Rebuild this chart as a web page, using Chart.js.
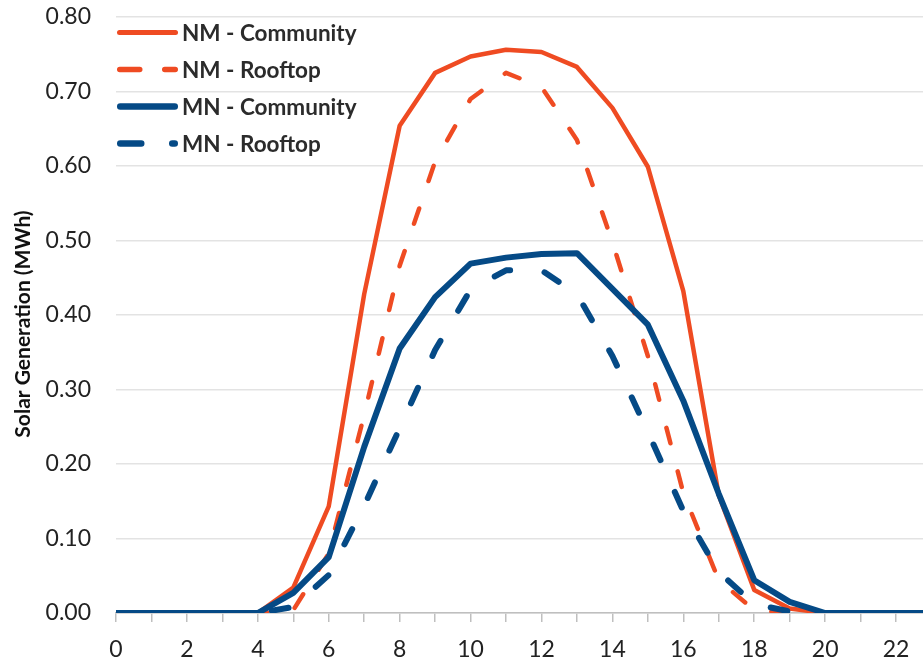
<!DOCTYPE html>
<html>
<head>
<meta charset="utf-8">
<script src="https://cdn.jsdelivr.net/npm/chart.js@4.4.1/dist/chart.umd.min.js"></script>
<style>
  html, body { margin: 0; padding: 0; background: #ffffff; overflow: hidden; }
  #wrap { width: 923px; height: 660px; position: relative; }
</style>
</head>
<body>
<div id="wrap"><canvas id="c"></canvas></div>
<script>
// ---- data ----
const hours = [0,1,2,3,4,5,6,7,8,9,10,11,12,13,14,15,16,17,18,19,20,21,22,23];
const seriesLabels = ['NM - Community', 'NM - Rooftop', 'MN - Community', 'MN - Rooftop'];
const nmCommunity = [0,0,0,0,0,0.034,0.143,0.428,0.654,0.725,0.747,0.756,0.753,0.733,0.678,0.599,0.432,0.158,0.031,0.006,0,0,0,0];
const nmRooftop   = [0,0,0,0,0,0.004,0.080,0.266,0.466,0.606,0.690,0.725,0.706,0.635,0.498,0.345,0.161,0.044,0.004,0,0,0,0,0];
const mnCommunity = [0,0,0,0,0,0.027,0.075,0.223,0.355,0.424,0.469,0.477,0.482,0.483,0.435,0.387,0.285,0.160,0.044,0.015,0,0,0,0];
const mnRooftop   = [0,0,0,0,0,0.008,0.051,0.144,0.248,0.353,0.434,0.460,0.460,0.428,0.345,0.243,0.137,0.055,0.012,0.002,0,0,0,0];
const yTicks = [0,0.1,0.2,0.3,0.4,0.5,0.6,0.7,0.8];
const xAxisMax = 22.76;
const yTitle = 'Solar Generation (MWh)';

const ORANGE = '#EF4B22';
const BLUE = '#054A86';
const FONT = 'Lato, "Open Sans", sans-serif';

function pts(vals) { return hours.map((h, i) => ({ x: h, y: vals[i] })); }

const legendStyles = [
  { w: 5, dash: [] },
  { w: 5.5, dash: [20, 25] },
  { w: 6.5, dash: [] },
  { w: 6.5, dash: [21, 31] }
];

const legendPlugin = {
  id: 'insideLegend',
  afterDatasetsDraw(chart) {
    const ctx = chart.ctx;
    const ca = chart.chartArea;
    const x0 = ca.left + 1, x1 = ca.left + 62;
    ctx.save();
    chart.data.datasets.forEach((ds, i) => {
      const y = ca.top + 15.5 + i * 37;
      const st = legendStyles[i];
      ctx.beginPath();
      ctx.strokeStyle = ds.borderColor;
      ctx.lineWidth = st.w;
      ctx.lineCap = 'round';
      ctx.setLineDash(st.dash);
      ctx.moveTo(x0 + st.w / 2, y);
      ctx.lineTo(x1 - st.w / 2, y);
      ctx.stroke();
      ctx.setLineDash([]);
      ctx.fillStyle = '#2b2b2b';
      ctx.font = 'bold 22.5px ' + FONT;
      ctx.textBaseline = 'middle';
      ctx.textAlign = 'left';
      ctx.fillText(ds.label, x1 + 4, y + 1);
    });
    ctx.restore();
  }
};

const yTitlePlugin = {
  id: 'yTitle',
  afterDraw(chart) {
    const ctx = chart.ctx;
    const ca = chart.chartArea;
    ctx.save();
    ctx.translate(23, (ca.top + ca.bottom) / 2 + 9);
    ctx.rotate(-Math.PI / 2);
    ctx.fillStyle = '#111';
    ctx.font = 'bold 21px ' + FONT;
    ctx.textAlign = 'center';
    ctx.textBaseline = 'middle';
    ctx.fillText(yTitle, 0, 0);
    ctx.restore();
  }
};

new Chart(document.getElementById('c'), {
  type: 'line',
  data: {
    datasets: [
      { label: seriesLabels[0], data: pts(nmCommunity), borderColor: ORANGE, backgroundColor: ORANGE,
        borderWidth: 4.5, order: 2, borderJoinStyle: 'round', borderCapStyle: 'round' },
      { label: seriesLabels[1], data: pts(nmRooftop), borderColor: ORANGE, backgroundColor: ORANGE,
        borderWidth: 4.5, borderDash: [16, 29], order: 3, borderJoinStyle: 'round', borderCapStyle: 'round' },
      { label: seriesLabels[2], data: pts(mnCommunity), borderColor: BLUE, backgroundColor: BLUE,
        borderWidth: 6, order: 0, borderJoinStyle: 'round', borderCapStyle: 'round' },
      { label: seriesLabels[3], data: pts(mnRooftop), borderColor: BLUE, backgroundColor: BLUE,
        borderWidth: 6, borderDash: [17, 35], order: 1, borderJoinStyle: 'round', borderCapStyle: 'round' }
    ]
  },
  options: {
    responsive: true,
    maintainAspectRatio: false,
    animation: false,
    layout: { padding: { left: 0, right: 0, top: 17, bottom: 0 } },
    elements: { point: { radius: 0, hoverRadius: 0 }, line: { tension: 0 } },
    plugins: { legend: { display: false }, tooltip: { enabled: false } },
    scales: {
      x: {
        type: 'linear',
        min: 0,
        max: xAxisMax,
        afterFit: (scale) => { scale.height = 47; scale.paddingLeft = 0; scale.paddingRight = 0; },
        grid: { drawOnChartArea: false, drawTicks: true, tickLength: 9, color: '#BFBFBF', lineWidth: 1.5 },
        border: { display: true, color: '#BFBFBF', width: 1.5 },
        ticks: {
          stepSize: 1,
          includeBounds: false,
          autoSkip: false,
          maxRotation: 0,
          padding: 17,
          color: '#222',
          font: { family: FONT, size: 23, lineHeight: 0.95 },
          callback: (v) => (Number.isInteger(v) && v % 2 === 0) ? String(v) : ''
        }
      },
      y: {
        min: 0,
        max: 0.8,
        afterBuildTicks: (scale) => { scale.ticks = yTicks.map(v => ({ value: v })); },
        afterFit: (scale) => { scale.width = 116; scale.paddingTop = 0; scale.paddingBottom = 0; },
        grid: { drawTicks: false, color: '#E3E3E3', lineWidth: 1.5 },
        border: { display: false },
        ticks: {
          padding: 25,
          color: '#222',
          font: { family: FONT, size: 23 },
          callback: (v) => Number(v).toFixed(2)
        },
        title: { display: false }
      }
    }
  },
  plugins: [legendPlugin, yTitlePlugin]
});
</script>
</body>
</html>
